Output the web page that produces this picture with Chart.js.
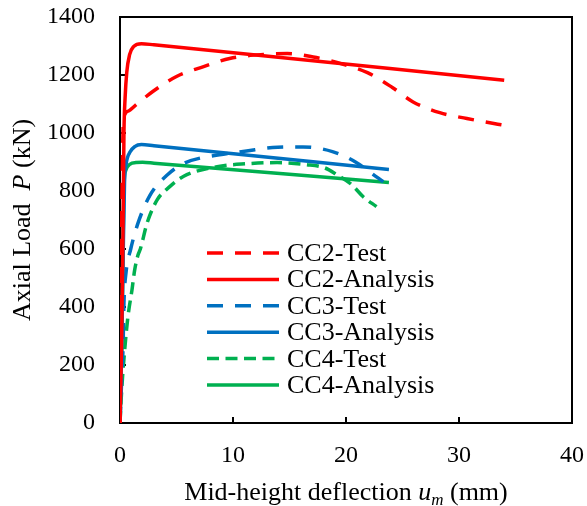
<!DOCTYPE html>
<html>
<head>
<meta charset="utf-8">
<script src="https://cdn.jsdelivr.net/npm/chart.js@4.4.1/dist/chart.umd.min.js"></script>
<style>
  body { margin: 0; background: #fff; }
  #wrap { width: 587px; height: 506px; position: relative; }
</style>
</head>
<body>
<div id="wrap"><canvas id="myChart"></canvas></div>
<script>
// mid-height deflection (mm) and axial load (kN) per specimen
const cc2TestX = [0, 0.1, 0.2, 0.3, 0.7, 1.5, 2.9, 5.0, 7.4, 9.7, 12.7, 14.8, 17.1, 19.2, 21.9, 24.1, 25.9, 28.3, 30.7, 33.2, 34.0];
const cc2TestY = [0, 450, 850, 1040, 1075, 1100, 1143, 1195, 1229, 1257, 1271, 1274, 1262, 1243, 1208, 1157, 1108, 1070, 1050, 1032, 1027];

const cc2AnaX = [0, 0.15, 0.25, 0.35, 0.45, 0.6, 0.85, 1.2, 1.9, 3.0, 34.0];
const cc2AnaY = [0, 300, 600, 1000, 1120, 1210, 1270, 1298, 1308, 1304, 1182];

const cc3TestX = [0, 0.15, 0.27, 0.35, 0.53, 0.95, 1.6, 2.65, 4.2, 5.75, 8.8, 11.2, 13.5, 16.2, 18.8, 20.8, 22.8, 23.3];
const cc3TestY = [0, 150, 263, 414, 518, 600, 690, 785, 856, 897, 925, 938, 950, 952, 936, 901, 846, 832];

const cc3AnaX = [0, 0.15, 0.27, 0.4, 0.55, 0.9, 1.3, 1.9, 3.0, 23.8];
const cc3AnaY = [0, 250, 550, 830, 895, 935, 953, 960, 956, 874];

const cc4TestX = [0, 0.15, 0.44, 0.7, 1.06, 1.3, 1.6, 1.8, 2.4, 3.3, 4.4, 5.6, 8.6, 11.2, 13.9, 16.5, 18.1, 19.2, 20.5, 21.5, 22.7];
const cc4TestY = [0, 114, 263, 366, 459, 528, 580, 600, 690, 770, 815, 850, 884, 894, 898, 891, 880, 856, 822, 781, 746];

const cc4AnaX = [0, 0.15, 0.25, 0.35, 0.5, 0.9, 1.4, 2.0, 3.0, 23.8];
const cc4AnaY = [0, 250, 550, 820, 870, 893, 898, 899, 896, 829];

const xTicks = [0, 10, 20, 30, 40];
const yTicks = [0, 200, 400, 600, 800, 1000, 1200, 1400];

const serif = "'Liberation Serif', 'Times New Roman', serif";
const RED = "#FF0000", BLUE = "#0070C0", GREEN = "#00B050";
const DASH = [16, 12], SHORT_DASH = [12, 6.5];

function pts(xs, ys) {
  return xs.map((x, i) => ({ x: x, y: ys[i] }));
}

function series(label, xs, ys, color, dash) {
  return {
    label: label,
    data: pts(xs, ys),
    borderColor: color,
    backgroundColor: color,
    borderWidth: 3.5,
    borderDash: dash,
    borderCapStyle: "butt",
    pointRadius: 0,
    fill: false,
    cubicInterpolationMode: "monotone",
  };
}

// fixed axis sizes so the plot box lands where it should
function fixSize(s) {
  s.paddingTop = 0;
  s.paddingBottom = 0;
  s.paddingLeft = 0;
  s.paddingRight = 0;
  if (s.axis === "x") s.height = 83;
  else s.width = 120;
}

// box round the plot area plus inward tick marks
const frame = {
  id: "frame",
  beforeDatasetsDraw(chart) {
    const { ctx, chartArea: a, scales } = chart;
    ctx.save();
    ctx.strokeStyle = "#000";
    ctx.lineWidth = 2;
    ctx.strokeRect(a.left, a.top, a.right - a.left, a.bottom - a.top);
    ctx.beginPath();
    xTicks.forEach((v) => {
      const px = scales.x.getPixelForValue(v);
      ctx.moveTo(px, a.bottom);
      ctx.lineTo(px, a.bottom - 6);
    });
    yTicks.forEach((v) => {
      const py = scales.y.getPixelForValue(v);
      ctx.moveTo(a.left, py);
      ctx.lineTo(a.left + 6, py);
    });
    ctx.stroke();
    ctx.restore();
  },
};

// draws a run of text pieces with their own fonts, centred on (0, 0)
function drawRuns(ctx, runs) {
  let total = 0;
  runs.forEach((r) => {
    ctx.font = r.font;
    r.w = ctx.measureText(r.text).width;
    total += r.w;
  });
  let x = -total / 2;
  runs.forEach((r) => {
    ctx.font = r.font;
    ctx.fillText(r.text, x, r.dy || 0);
    x += r.w;
  });
}

const titles = {
  id: "titles",
  afterDraw(chart) {
    const { ctx, chartArea: a } = chart;
    ctx.save();
    ctx.fillStyle = "#000";
    ctx.textAlign = "left";
    ctx.textBaseline = "alphabetic";

    ctx.save();
    ctx.translate((a.left + a.right) / 2, 500);
    drawRuns(ctx, [
      { text: "Mid-height deflection ", font: "26px " + serif },
      { text: "u", font: "italic 26px " + serif },
      { text: "m", font: "italic 17px " + serif, dy: 5 },
      { text: " (mm)", font: "26px " + serif },
    ]);
    ctx.restore();

    ctx.save();
    ctx.translate(30, (a.top + a.bottom) / 2);
    ctx.rotate(-Math.PI / 2);
    drawRuns(ctx, [
      { text: "Axial Load  ", font: "26px " + serif },
      { text: "P", font: "italic 26px " + serif },
      { text: " (kN)", font: "26px " + serif },
    ]);
    ctx.restore();
    ctx.restore();
  },
};

// legend inside the plot, built from the datasets themselves
const innerLegend = {
  id: "innerLegend",
  afterDraw(chart) {
    const { ctx } = chart;
    const x0 = 207, x1 = 279, tx = 287, y0 = 253, step = 26.4;
    ctx.save();
    ctx.font = "26px " + serif;
    ctx.fillStyle = "#000";
    ctx.textBaseline = "alphabetic";
    chart.data.datasets.forEach((ds, i) => {
      const y = y0 + i * step;
      ctx.strokeStyle = ds.borderColor;
      ctx.lineWidth = ds.borderWidth;
      ctx.lineCap = "butt";
      ctx.setLineDash(ds.borderDash || []);
      ctx.beginPath();
      ctx.moveTo(x0, y);
      ctx.lineTo(x1, y);
      ctx.stroke();
      ctx.fillText(ds.label, tx, y + 8);
    });
    ctx.restore();
  },
};

const ctx = document.getElementById("myChart");
new Chart(ctx, {
  type: "line",
  data: {
    datasets: [
      series("CC2-Test", cc2TestX, cc2TestY, RED, DASH),
      series("CC2-Analysis", cc2AnaX, cc2AnaY, RED, []),
      series("CC3-Test", cc3TestX, cc3TestY, BLUE, DASH),
      series("CC3-Analysis", cc3AnaX, cc3AnaY, BLUE, []),
      series("CC4-Test", cc4TestX, cc4TestY, GREEN, SHORT_DASH),
      series("CC4-Analysis", cc4AnaX, cc4AnaY, GREEN, []),
    ],
  },
  options: {
    responsive: true,
    maintainAspectRatio: false,
    animation: false,
    devicePixelRatio: 1,
    layout: { padding: { top: 17, right: 15, left: 0, bottom: 0 } },
    plugins: {
      legend: { display: false },
      tooltip: { enabled: false },
    },
    scales: {
      x: {
        type: "linear",
        min: 0,
        max: 40,
        afterBuildTicks: (s) => { s.ticks = xTicks.map((v) => ({ value: v })); },
        afterFit: fixSize,
        grid: { display: false, drawTicks: false },
        border: { display: false },
        ticks: {
          color: "#000",
          padding: 18,
          maxRotation: 0,
          font: { family: serif, size: 24 },
          callback: (v) => String(v),
        },
      },
      y: {
        min: 0,
        max: 1400,
        afterBuildTicks: (s) => { s.ticks = yTicks.map((v) => ({ value: v })); },
        afterFit: fixSize,
        grid: { display: false, drawTicks: false },
        border: { display: false },
        ticks: {
          color: "#000",
          padding: 25,
          font: { family: serif, size: 24 },
          callback: (v) => String(v),
        },
      },
    },
  },
  plugins: [frame, titles, innerLegend],
});
</script>
</body>
</html>
